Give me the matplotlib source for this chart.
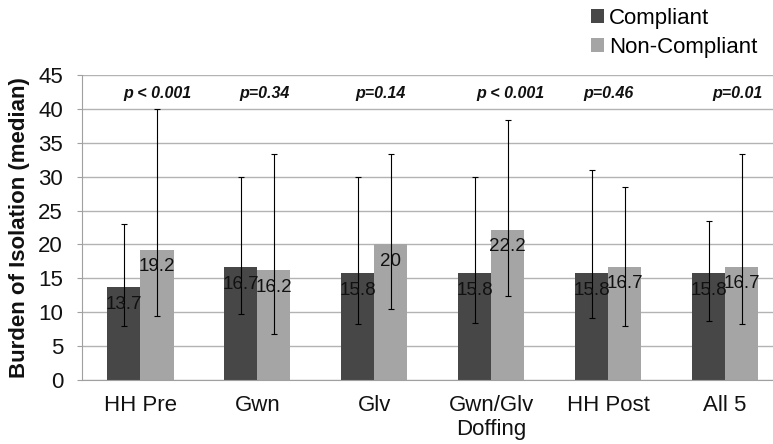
import numpy as np
import matplotlib.pyplot as plt

plt.rcParams['font.family'] = ['Liberation Sans', 'DejaVu Sans']

categories = ['HH Pre', 'Gwn', 'Glv', 'Gwn/Glv\nDoffing', 'HH Post', 'All 5']
compliant = [13.7, 16.7, 15.8, 15.8, 15.8, 15.8]
non_compliant = [19.2, 16.2, 20, 22.2, 16.7, 16.7]
comp_low = [7.9, 9.7, 8.3, 8.4, 9.1, 8.7]
comp_high = [23.0, 30.0, 30.0, 30.0, 31.0, 23.4]
non_low = [9.5, 6.8, 10.5, 12.4, 8.0, 8.3]
non_high = [40.0, 33.3, 33.3, 38.4, 28.5, 33.3]
p_values = ['p < 0.001', 'p=0.34', 'p=0.14', 'p < 0.001', 'p=0.46', 'p=0.01']
p_offsets = [0.146, 0.06, 0.05, 0.16, 0.0, 0.107]

dark = '#474747'
light = '#a5a5a5'

fig = plt.figure(figsize=(7.73, 4.44), dpi=100)
ax = fig.add_axes([82 / 773, 64 / 444, 691 / 773, 305 / 444])

x = np.arange(len(categories))
w = 0.283

comp = np.array(compliant)
non = np.array(non_compliant)
b1 = ax.bar(x - w / 2, comp, w, color=dark, label='Compliant', zorder=2)
b2 = ax.bar(x + w / 2, non, w, color=light, label='Non-Compliant', zorder=2)

ax.errorbar(x - w / 2, comp, yerr=[comp - np.array(comp_low), np.array(comp_high) - comp],
            fmt='none', ecolor='black', elinewidth=0.8, capsize=2.5, capthick=0.8, zorder=3)
ax.errorbar(x + w / 2, non, yerr=[non - np.array(non_low), np.array(non_high) - non],
            fmt='none', ecolor='black', elinewidth=0.8, capsize=2.5, capthick=0.8, zorder=3)

for i in range(len(categories)):
    ax.text(x[i] - w / 2, compliant[i] - 2.6, f'{compliant[i]:g}', ha='center', va='center',
            fontsize=13.5, color='#111111', zorder=4)
    ax.text(x[i] + w / 2, non_compliant[i] - 2.5, f'{non_compliant[i]:g}', ha='center', va='center',
            fontsize=13.5, color='#111111', zorder=4)
    ax.text(x[i] + p_offsets[i], 42.3, p_values[i], ha='center', va='center',
            fontsize=11.5, fontweight='bold', fontstyle='italic', color='#111111')

ax.set_ylim(0, 45)
ax.set_xlim(-0.5, 5.41)
ax.set_yticks(range(0, 46, 5))
ax.set_xticks(x)
ax.set_xticklabels(categories)
ax.tick_params(axis='both', labelsize=16, colors='#111111')
ax.tick_params(axis='y', length=3.6, width=0.8, color='#a0a0a0', pad=10)
ax.tick_params(axis='x', length=0, pad=11)
ax.yaxis.grid(True, color='#b3b3b3', linewidth=1.0, zorder=0)
ax.set_axisbelow(True)
for s in ['top', 'right']:
    ax.spines[s].set_visible(False)
for s in ['left', 'bottom']:
    ax.spines[s].set_color('#a0a0a0')

fig.text(20 / 773, 1 - 227.5 / 444, 'Burden of Isolation (median)', rotation=90,
         ha='center', va='center', fontsize=16, fontweight='bold', color='#111111')

fig.legend(handles=[b1, b2], loc='upper left', bbox_to_anchor=(578 / 773, 1.012), frameon=False,
           fontsize=16, handlelength=0.55, handleheight=0.55, handletextpad=0.25,
           labelspacing=0.35, borderpad=0.1)

fig.savefig('out.png', dpi=100)
